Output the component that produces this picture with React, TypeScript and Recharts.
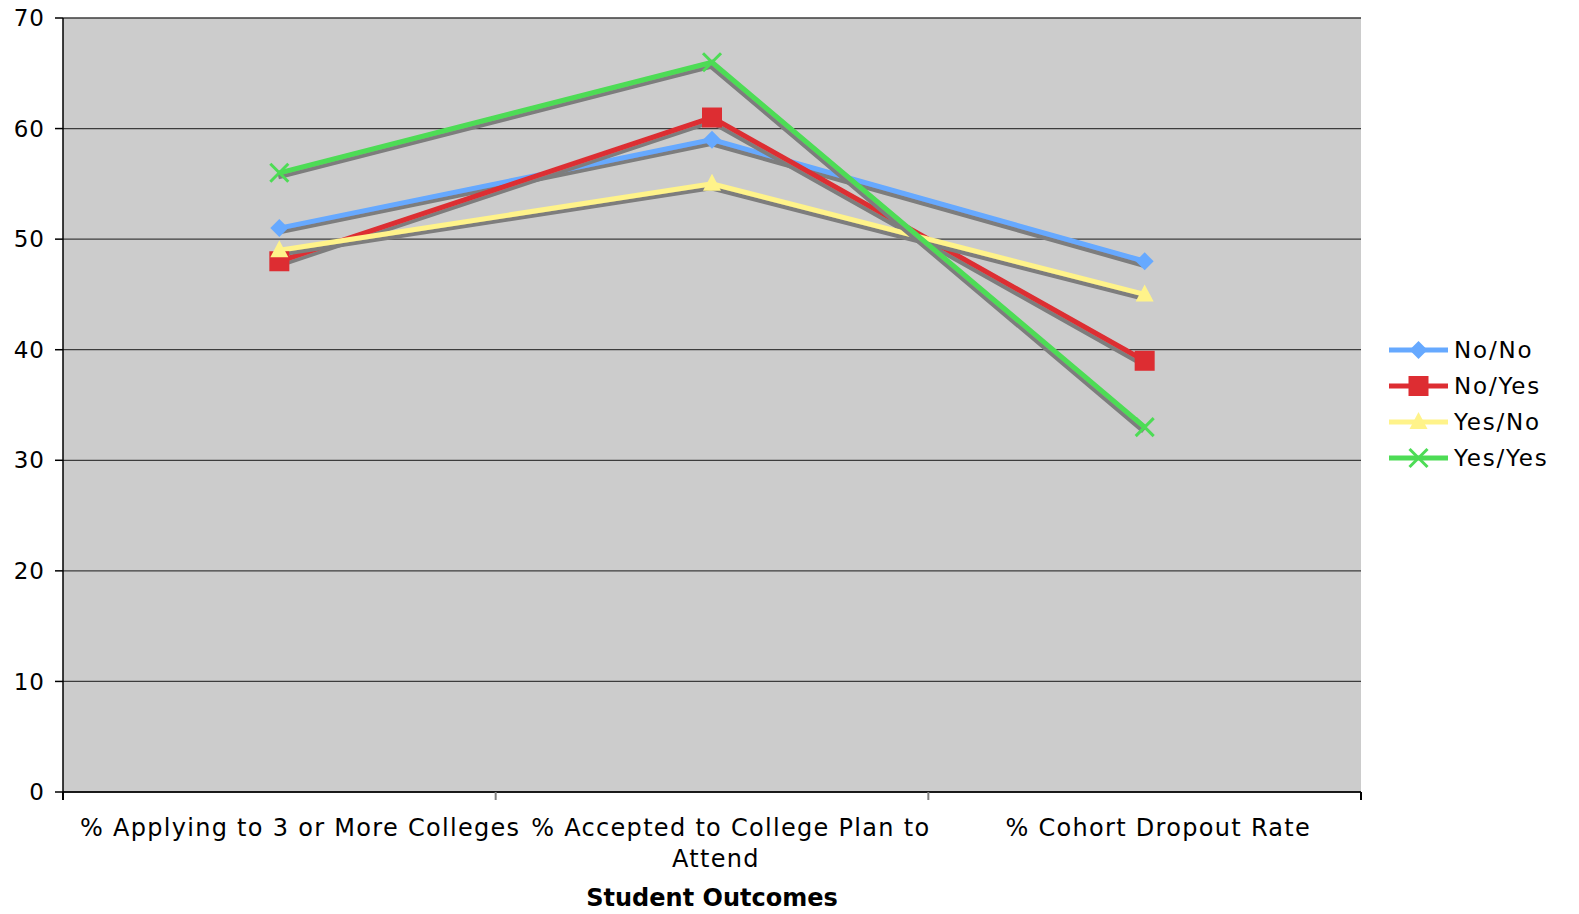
import React from 'react';
import { LineChart, Line, XAxis, YAxis, CartesianGrid, Legend } from 'recharts';

// ---------- data ----------
const categories = [
  '% Applying to 3 or More Colleges',
  '% Accepted to College Plan to Attend',
  '% Cohort Dropout Rate',
];
const noNo = [51, 59, 48];
const noYes = [48, 61, 39];
const yesNo = [49, 55, 45];
const yesYes = [56, 66, 33];
const yTicks = [0, 10, 20, 30, 40, 50, 60, 70];
const seriesNames = ['No/No', 'No/Yes', 'Yes/No', 'Yes/Yes'];
const seriesValues = [noNo, noYes, yesNo, yesYes];
const seriesColors = ['#66a9ff', '#dd2d32', '#fff38a', '#4ddc55'];
const seriesMarkers = ['diamond', 'square', 'triangle', 'cross'];
const xAxisTitle = 'Student Outcomes';

const data = categories.map((c, i) => {
  const row: Record<string, string | number> = { category: c };
  seriesNames.forEach((n, s) => {
    row[n] = seriesValues[s][i];
  });
  return row;
});

// ---------- styles ----------
const FONT = '"DejaVu Sans", Verdana, sans-serif';
const CAT_SIZE = 24;
const CAT_LS = 1.3;

let ctx: CanvasRenderingContext2D | null = null;
function naturalWidth(text: string, size: number) {
  if (!ctx && typeof document !== 'undefined') {
    ctx = document.createElement('canvas').getContext('2d');
  }
  if (!ctx) return text.length * size * 0.6;
  ctx.font = `${size}px "DejaVu Sans"`;
  return ctx.measureText(text).width;
}

function wrapWords(text: string, maxW: number, size: number) {
  const words = text.split(' ');
  const lines: string[] = [];
  let cur = '';
  for (const w of words) {
    const test = cur ? cur + ' ' + w : w;
    if (cur && naturalWidth(test, size) > maxW) {
      lines.push(cur);
      cur = w;
    } else {
      cur = test;
    }
  }
  if (cur) lines.push(cur);
  return lines;
}

function Marker({ kind, cx, cy, color }: { kind: string; cx: number; cy: number; color: string }) {
  switch (kind) {
    case 'diamond':
      return (
        <polygon
          points={`${cx},${cy - 9} ${cx + 9},${cy} ${cx},${cy + 9} ${cx - 9},${cy}`}
          fill={color}
        />
      );
    case 'square':
      return <rect x={cx - 10} y={cy - 10} width={20} height={20} fill={color} />;
    case 'triangle':
      return (
        <polygon
          points={`${cx},${cy - 10} ${cx + 9},${cy + 7} ${cx - 9},${cy + 7}`}
          fill={color}
        />
      );
    default:
      return (
        <g stroke={color} strokeWidth={3}>
          <line x1={cx - 9} y1={cy - 9} x2={cx + 9} y2={cy + 9} />
          <line x1={cx - 9} y1={cy + 9} x2={cx + 9} y2={cy - 9} />
        </g>
      );
  }
}

function CategoryTick(props: any) {
  const { x, y, payload } = props;
  const half = typeof payload?.offset === 'number' && payload.offset > 0 ? payload.offset : 216.5;
  const lines = wrapWords(String(payload.value), half * 2, CAT_SIZE);
  const isLast = payload.index === categories.length - 1;
  return (
    <g>
      <line
        x1={x - half}
        x2={x - half}
        y1={y}
        y2={y + 8}
        stroke={payload.index === 0 ? '#000' : '#808080'}
        strokeWidth={2}
      />
      {isLast && (
        <line x1={x + half} x2={x + half} y1={y} y2={y + 8} stroke="#000" strokeWidth={2} />
      )}
      <text fontFamily={FONT} fontSize={CAT_SIZE} letterSpacing={CAT_LS} fill="#000">
        {lines.map((l, i) => (
          <tspan key={i} x={x - naturalWidth(l, CAT_SIZE) / 2} y={y + 44 + i * 31}>
            {l}
          </tspan>
        ))}
      </text>
    </g>
  );
}

function makeDot(kind: string, color: string) {
  return (p: any) => (
    <Marker key={`dot-${kind}-${p.index}`} kind={kind} cx={p.cx} cy={p.cy} color={color} />
  );
}

function LegendBox() {
  return (
    <div
      style={{
        fontFamily: FONT,
        fontSize: 23,
        letterSpacing: 1.8,
        whiteSpace: 'nowrap',
        color: '#000',
      }}
    >
      {seriesNames.map((n, i) => (
        <div key={n} style={{ height: 36, display: 'flex', alignItems: 'center' }}>
          <svg width={59} height={36} style={{ flex: 'none' }}>
            <line x1={0} x2={59} y1={18} y2={18} stroke={seriesColors[i]} strokeWidth={5} />
            <Marker kind={seriesMarkers[i]} cx={29.5} cy={18} color={seriesColors[i]} />
          </svg>
          <span style={{ marginLeft: 6 }}>{n}</span>
        </div>
      ))}
    </div>
  );
}

export default function App() {
  return (
    <div style={{ width: 1571, height: 906 }}>
      <style>{'.recharts-line{filter:url(#lineShadow);}'}</style>
      <svg width={0} height={0} style={{ position: 'absolute' }}>
        <defs>
          <filter id="lineShadow" filterUnits="userSpaceOnUse" x={0} y={0} width={1600} height={1000}>
            <feOffset in="SourceAlpha" dx={-1} dy={4} result="off" />
            <feFlood floodColor="#7d7d7d" result="col" />
            <feComposite in="col" in2="off" operator="in" result="sh" />
            <feMerge>
              <feMergeNode in="sh" />
              <feMergeNode in="SourceGraphic" />
            </feMerge>
          </filter>
        </defs>
      </svg>
      <LineChart
        width={1571}
        height={906}
        data={data}
        margin={{ top: 10, right: 218, bottom: 0, left: 0 }}
      >
        <CartesianGrid vertical={false} stroke="#3c3c3c" strokeWidth={1.3} fill="#cccccc" />
        <XAxis
          dataKey="category"
          scale="band"
          height={122}
          tickLine={false}
          tickSize={0}
          tickMargin={0}
          interval={0}
          axisLine={{ stroke: '#000', strokeWidth: 1.5 }}
          tick={<CategoryTick />}
          label={{
            value: xAxisTitle,
            position: 'insideBottom',
            offset: 8,
            fontFamily: FONT,
            fontSize: 24,
            fontWeight: 'bold',
            fill: '#000',
          }}
        />
        <YAxis
          width={55}
          domain={[0, 70]}
          ticks={yTicks}
          interval={0}
          tickSize={8}
          tickMargin={10}
          axisLine={{ stroke: '#000', strokeWidth: 1.5 }}
          tickLine={{ stroke: '#000', strokeWidth: 1.5 }}
          tick={{ fill: '#000', fontSize: 23, fontFamily: FONT, letterSpacing: 1 }}
        />
        {seriesNames.map((n, i) => (
          <Line
            key={n}
            dataKey={n}
            name={n}
            type="linear"
            stroke={seriesColors[i]}
            strokeWidth={5}
            dot={makeDot(seriesMarkers[i], seriesColors[i])}
            activeDot={false}
            isAnimationActive={false}
          />
        ))}
        <Legend
          layout="vertical"
          align="center"
          verticalAlign="middle"
          wrapperStyle={{ position: 'absolute', left: 1381, top: 324, width: 185 }}
          content={() => <LegendBox />}
        />
      </LineChart>
    </div>
  );
}
